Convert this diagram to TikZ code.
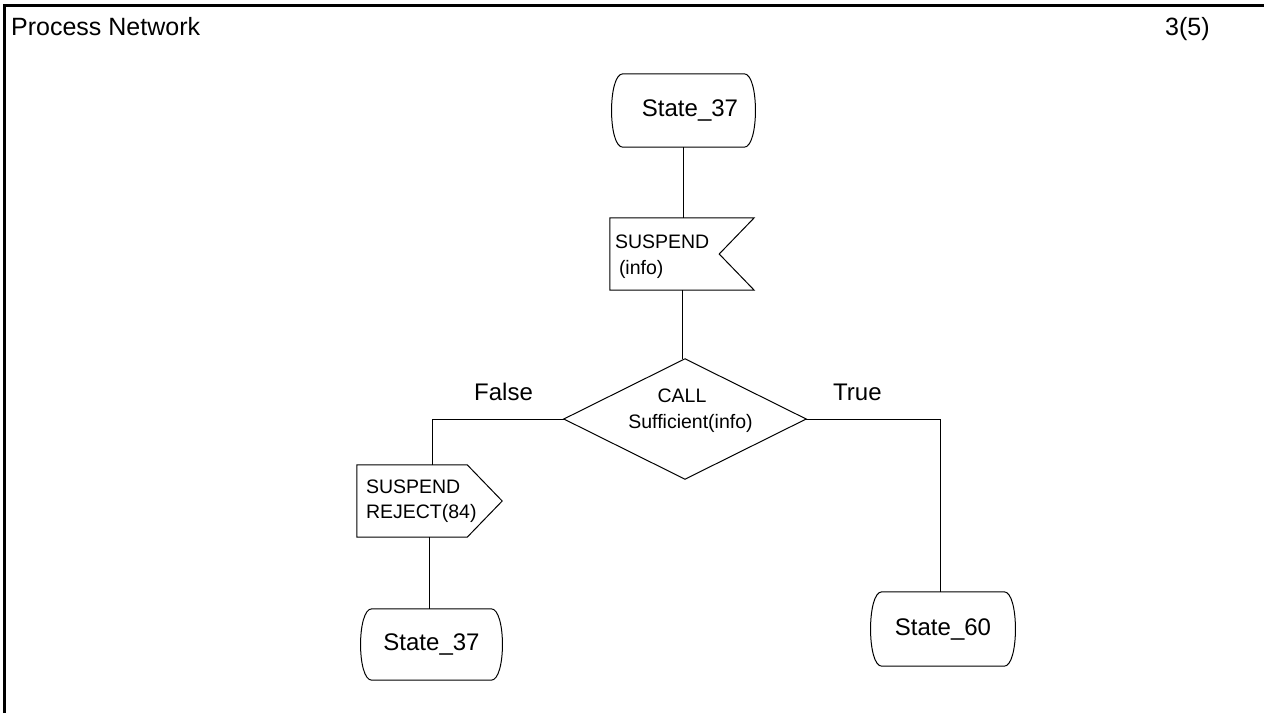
\documentclass[tikz,border=0pt]{standalone}
\usepackage{fontspec}
\setmainfont{Liberation Sans}
\begin{document}
\begin{tikzpicture}[x=1pt,y=-1pt,
  outline/.style={line width=1pt,line join=miter},
  wire/.style={line width=1pt},
  shapebox/.style={draw=none,inner sep=0pt,font=\fontsize{19.5}{26}\selectfont},
  statebox/.style={draw=none,inner sep=0pt,font=\fontsize{24}{28}\selectfont},
  heading/.style={anchor=base west,inner sep=0pt,font=\fontsize{25}{30}\selectfont},
  branch/.style={anchor=base west,inner sep=0pt,font=\fontsize{24}{28}\selectfont}]
\useasboundingbox (0,0) rectangle (1264,713);

% SDL symbol outlines, drawn around plain rectangular nodes
\newcommand\stateoutline[1]{%
  \draw[outline] ([xshift=11pt]#1.north west) -- ([xshift=-11pt]#1.north east)
    .. controls ([xshift=4pt]#1.north east) and ([xshift=4pt]#1.south east) .. ([xshift=-11pt]#1.south east)
    -- ([xshift=11pt]#1.south west)
    .. controls ([xshift=-4pt]#1.south west) and ([xshift=-4pt]#1.north west) .. ([xshift=11pt]#1.north west) -- cycle;}
\newcommand\inputoutline[1]{%
  \draw[outline] (#1.north west) -- (#1.north east) -- ([xshift=-35pt]#1.east)
    -- (#1.south east) -- (#1.south west) -- cycle;}
\newcommand\outputoutline[1]{%
  \draw[outline] (#1.north west) -- ([xshift=-35pt]#1.north east) -- (#1.east)
    -- ([xshift=-35pt]#1.south east) -- (#1.south west) -- cycle;}
\newcommand\decisionoutline[1]{%
  \draw[outline] (#1.north) -- (#1.east) -- (#1.south) -- (#1.west) -- cycle;}

% page frame
\draw[line width=2.5pt] (4.5,713) -- (4.5,5.5) -- (1264,5.5);
\node[heading] (title) at (11,35) {Process Network};
\node[heading] (page) at (1165,35) {3(5)};

% symbols
\node[statebox,minimum width=143pt,minimum height=73pt] (s1) at (683.5,110.5) {\hspace*{13pt}State\_37};
\node[shapebox,minimum width=144pt,minimum height=72pt,text width=134pt,inner xsep=5pt,align=left]
  (in1) at (682,254) {\rule{0pt}{19pt}SUSPEND\\\hspace*{4pt}(info)};
\node[shapebox,minimum width=242pt,minimum height=120pt,align=center]
  (dec) at (685,419) {\hspace*{-6pt}CALL\\\hspace*{11pt}Sufficient(info)\rule[-20pt]{0pt}{0pt}};
\node[shapebox,font=\fontsize{19.5}{25}\selectfont,minimum width=145pt,minimum height=72pt,text width=127pt,inner xsep=9pt,align=left]
  (out1) at (429.5,501) {SUSPEND\\REJECT(84)};
\node[statebox,minimum width=141pt,minimum height=71pt] (s2) at (431.5,644.5) {State\_37};
\node[statebox,minimum width=144pt,minimum height=74pt] (s3) at (943,629) {State\_60};

\stateoutline{s1}
\inputoutline{in1}
\decisionoutline{dec}
\outputoutline{out1}
\stateoutline{s2}
\stateoutline{s3}

% branch labels
\node[branch] (lfalse) at (474,400) {False};
\node[branch] (ltrue) at (833,400) {True};

% connectors
\draw[wire] (s1.south) -- (s1.south |- in1.north);
\draw[wire] (in1.south) -- (in1.south |- dec.north);
\draw[wire] (dec.west) -| ([xshift=2.5pt]out1.north);
\draw[wire] (out1.south) -- (out1.south |- s2.north);
\draw[wire] (dec.east) -| ([xshift=-3pt]s3.north);
\end{tikzpicture}
\end{document}
